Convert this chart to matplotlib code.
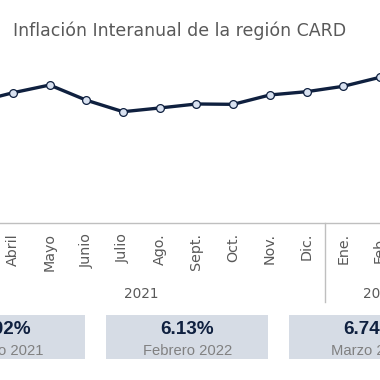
import matplotlib
matplotlib.use("Agg")
import matplotlib.pyplot as plt
import matplotlib.transforms as mtransforms
from matplotlib.patches import Rectangle

# ---- data ----
months = ["Marzo", "Abril", "Mayo", "Junio", "Julio", "Ago.", "Sept.", "Oct.",
          "Nov.", "Dic.", "Ene.", "Feb.", "Marzo"]
values = [4.02, 4.81, 5.47, 4.17, 3.19, 3.51, 3.85, 3.82, 4.62, 4.90, 5.36, 6.13, 6.74]
years = ["2021", "2022"]
year_counts = [10, 3]
box_values = ["4.02%", "6.13%", "6.74%"]
box_labels = ["Marzo 2021", "Febrero 2022", "Marzo 2022"]
title = "Inflación Interanual de la región CARD"

# ---- style ----
NAVY = "#0f203f"
MARKER_FILL = "#d9e2f1"
GRAY_TXT = "#595959"
AXIS_GRAY = "#bfbfbf"
BOX_FILL = "#d6dce5"
W = H = 380

fig = plt.figure(figsize=(3.8, 3.8), dpi=100)
fig.patch.set_facecolor("white")

axis_y_px = 223.3
ax = fig.add_axes([0, (H - axis_y_px) / H, 1, axis_y_px / H])
ax.set_facecolor("none")
ax.plot(range(len(values)), values, color=NAVY, lw=2.4, marker="o", ms=5.6,
        mfc=MARKER_FILL, mec=NAVY, mew=0.9, solid_joinstyle="round", zorder=3)
for s in ["left", "right", "top"]:
    ax.spines[s].set_visible(False)
ax.spines["bottom"].set_color(AXIS_GRAY)
ax.spines["bottom"].set_linewidth(1.0)
ax.set_yticks([])
ax.set_xticks(range(len(months)))
ax.set_xticklabels(months, rotation=90, va="top", ha="center",
                   fontsize=10.3, color=GRAY_TXT, family="DejaVu Sans")
ax.tick_params(axis="x", length=0, pad=7.0)

# year groups and separators
trans = mtransforms.blended_transform_factory(ax.transData, ax.transAxes)
sep_bottom = -(302 - axis_y_px) / axis_y_px
year_y = -(294 - axis_y_px) / axis_y_px
start = 0
bounds = [-0.5]
for yr, n in zip(years, year_counts):
    center = start + (n - 1) / 2
    ax.text(center, year_y, yr, transform=trans, ha="center", va="center",
            fontsize=9.8, color=GRAY_TXT, family="DejaVu Sans", clip_on=False)
    start += n
    bounds.append(start - 0.5)
for b in bounds:
    ax.plot([b, b], [0, sep_bottom], transform=trans, color=AXIS_GRAY, lw=1.0,
            clip_on=False, scalex=False, scaley=False)

ax.set_xlim(0.646, 11.0)
ax.set_ylim(-6.34, 12.73)

# overlay for title and boxes (pixel coordinates)
ov = fig.add_axes([0, 0, 1, 1])
ov.set_xlim(0, W)
ov.set_ylim(H, 0)
ov.axis("off")
ov.patch.set_alpha(0)

t = ov.text(13, 36, title, fontsize=12, color=GRAY_TXT, family="DejaVu Sans",
            ha="left", va="baseline")
fig.canvas.draw()
r = fig.canvas.get_renderer()
wpx = t.get_window_extent(renderer=r).width
t.set_fontsize(12 * 330 / wpx)

box_w, pitch = 162.3, 183.0
box_left0 = 106 - pitch
for k, (v, lab) in enumerate(zip(box_values, box_labels)):
    x0 = box_left0 + k * pitch
    ov.add_patch(Rectangle((x0, 315), box_w, 44.3, facecolor=BOX_FILL,
                           edgecolor="none"))
    cx = x0 + box_w / 2
    ov.text(cx, 334.3, v, ha="center", va="baseline", fontsize=13.6,
            fontweight="bold", color=NAVY, family="Liberation Sans")
    ov.text(cx, 355, lab, ha="center", va="baseline", fontsize=10.6,
            color="#808080", family="Liberation Sans")

fig.savefig("out.png", dpi=100, facecolor="white")
